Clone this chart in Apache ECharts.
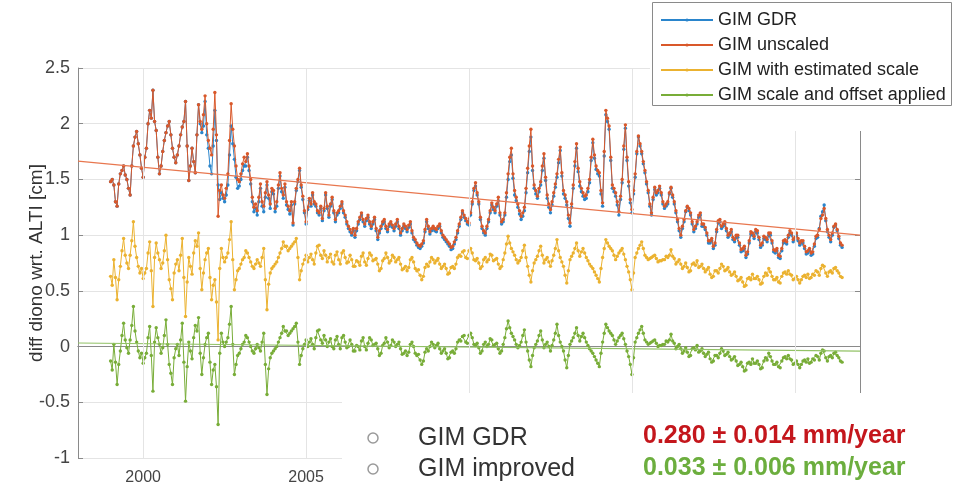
<!DOCTYPE html>
<html><head><meta charset="utf-8">
<script src="https://cdn.jsdelivr.net/npm/echarts@6/dist/echarts.min.js"></script>
<style>html,body{margin:0;padding:0;background:#fff}#c{width:955px;height:487px}</style>
</head><body><div id="c"></div>
<script>
const years = [
1999,1999.05,1999.1,1999.15,1999.2,1999.25,1999.3,1999.35,1999.4,1999.45,1999.5,1999.55,1999.6,1999.65,1999.7,1999.75,1999.8,1999.85,1999.9,1999.95,
2000,2000.05,2000.1,2000.15,2000.2,2000.25,2000.3,2000.35,2000.4,2000.45,2000.5,2000.55,2000.6,2000.65,2000.7,2000.75,2000.8,2000.85,2000.9,2000.95,
2001,2001.05,2001.1,2001.15,2001.2,2001.25,2001.3,2001.35,2001.4,2001.45,2001.5,2001.55,2001.6,2001.65,2001.7,2001.75,2001.8,2001.85,2001.9,2001.95,
2002,2002.05,2002.1,2002.15,2002.2,2002.25,2002.3,2002.35,2002.4,2002.45,2002.5,2002.55,2002.6,2002.65,2002.7,2002.75,2002.8,2002.85,2002.9,2002.95,
2003,2003.05,2003.1,2003.15,2003.2,2003.25,2003.3,2003.35,2003.4,2003.45,2003.5,2003.55,2003.6,2003.65,2003.7,2003.75,2003.8,2003.85,2003.9,2003.95,
2004,2004.05,2004.1,2004.15,2004.2,2004.25,2004.3,2004.35,2004.4,2004.45,2004.5,2004.55,2004.6,2004.65,2004.7,2004.75,2004.8,2004.85,2004.9,2004.95,
2005,2005.05,2005.1,2005.15,2005.2,2005.25,2005.3,2005.35,2005.4,2005.45,2005.5,2005.55,2005.6,2005.65,2005.7,2005.75,2005.8,2005.85,2005.9,2005.95,
2006,2006.05,2006.1,2006.15,2006.2,2006.25,2006.3,2006.35,2006.4,2006.45,2006.5,2006.55,2006.6,2006.65,2006.7,2006.75,2006.8,2006.85,2006.9,2006.95,
2007,2007.05,2007.1,2007.15,2007.2,2007.25,2007.3,2007.35,2007.4,2007.45,2007.5,2007.55,2007.6,2007.65,2007.7,2007.75,2007.8,2007.85,2007.9,2007.95,
2008,2008.05,2008.1,2008.15,2008.2,2008.25,2008.3,2008.35,2008.4,2008.45,2008.5,2008.55,2008.6,2008.65,2008.7,2008.75,2008.8,2008.85,2008.9,2008.95,
2009,2009.05,2009.1,2009.15,2009.2,2009.25,2009.3,2009.35,2009.4,2009.45,2009.5,2009.55,2009.6,2009.65,2009.7,2009.75,2009.8,2009.85,2009.9,2009.95,
2010,2010.05,2010.1,2010.15,2010.2,2010.25,2010.3,2010.35,2010.4,2010.45,2010.5,2010.55,2010.6,2010.65,2010.7,2010.75,2010.8,2010.85,2010.9,2010.95,
2011,2011.05,2011.1,2011.15,2011.2,2011.25,2011.3,2011.35,2011.4,2011.45,2011.5,2011.55,2011.6,2011.65,2011.7,2011.75,2011.8,2011.85,2011.9,2011.95,
2012,2012.05,2012.1,2012.15,2012.2,2012.25,2012.3,2012.35,2012.4,2012.45,2012.5,2012.55,2012.6,2012.65,2012.7,2012.75,2012.8,2012.85,2012.9,2012.95,
2013,2013.05,2013.1,2013.15,2013.2,2013.25,2013.3,2013.35,2013.4,2013.45,2013.5,2013.55,2013.6,2013.65,2013.7,2013.75,2013.8,2013.85,2013.9,2013.95,
2014,2014.05,2014.1,2014.15,2014.2,2014.25,2014.3,2014.35,2014.4,2014.45,2014.5,2014.55,2014.6,2014.65,2014.7,2014.75,2014.8,2014.85,2014.9,2014.95,
2015,2015.05,2015.1,2015.15,2015.2,2015.25,2015.3,2015.35,2015.4,2015.45,2015.5,2015.55,2015.6,2015.65,2015.7,2015.75,2015.8,2015.85,2015.9,2015.95,
2016,2016.05,2016.1,2016.15,2016.2,2016.25,2016.3,2016.35,2016.4,2016.45,2016.5,2016.55,2016.6,2016.65,2016.7,2016.75,2016.8,2016.85,2016.9,2016.95,
2017,2017.05,2017.1,2017.15,2017.2,2017.25,2017.3,2017.35,2017.4,2017.45,2017.5,2017.55,2017.6,2017.65,2017.7,2017.75,2017.8,2017.85,2017.9,2017.95,
2018,2018.05,2018.1,2018.15,2018.2,2018.25,2018.3,2018.35,2018.4,2018.45,2018.5,2018.55,2018.6,2018.65,2018.7,2018.75,2018.8,2018.85,2018.9,2018.95,
2019,2019.05,2019.1,2019.15,2019.2,2019.25,2019.3,2019.35,2019.4,2019.45,2019.5,2019.55,2019.6,2019.65,2019.7,2019.75,2019.8,2019.85,2019.9,2019.95,
2020,2020.05,2020.1,2020.15,2020.2,2020.25,2020.3,2020.35,2020.4,2020.45,2020.5,2020.55,2020.6,2020.65,2020.7,2020.75,2020.8,2020.85,2020.9,2020.95,
2021,2021.05,2021.1,2021.15,2021.2,2021.25,2021.3,2021.35,2021.4,2021.45
];
const gimGDR = [
1.48,1.50,1.45,1.30,1.26,1.46,1.55,1.58,1.62,1.54,1.50,1.42,1.36,1.62,1.80,1.88,1.93,1.82,1.72,1.60,
1.52,1.70,1.78,2.00,2.12,2.05,2.30,2.02,1.94,1.70,1.55,1.62,1.75,1.85,1.92,1.98,2.02,1.90,1.78,1.70,
1.65,1.72,1.80,1.90,1.97,2.02,2.20,1.80,1.49,1.62,1.78,1.66,1.56,1.90,2.17,2.00,1.92,1.98,2.20,1.90,
1.78,1.62,1.55,1.80,2.12,1.85,1.45,1.32,1.38,1.33,1.30,1.36,1.45,1.72,1.98,1.82,1.68,1.52,1.42,1.44,
1.50,1.58,1.62,1.62,1.70,1.58,1.46,1.30,1.21,1.24,1.18,1.30,1.42,1.26,1.21,1.34,1.45,1.33,1.24,1.39,
1.37,1.21,1.26,1.42,1.53,1.39,1.33,1.43,1.27,1.23,1.19,1.27,1.09,1.28,1.40,1.48,1.58,1.43,1.32,1.20,
1.10,1.23,1.31,1.26,1.36,1.28,1.26,1.20,1.18,1.24,1.13,1.22,1.36,1.24,1.16,1.26,1.32,1.20,1.12,1.18,
1.20,1.24,1.28,1.20,1.16,1.10,1.06,1.03,1.00,1.04,0.98,1.04,1.10,1.14,1.18,1.12,1.08,1.13,1.16,1.10,
1.06,1.10,1.14,1.04,0.96,1.02,1.06,1.10,1.12,1.06,1.03,1.08,1.10,1.07,1.04,1.08,1.12,1.06,1.00,1.04,
1.08,1.06,1.03,1.07,1.10,1.02,0.96,0.94,0.91,0.89,0.88,0.90,0.93,1.03,1.12,1.06,1.01,1.04,1.06,1.04,
1.03,1.06,1.08,1.02,0.98,0.96,0.94,0.92,0.90,0.87,0.88,0.92,0.96,1.02,1.08,1.14,1.20,1.16,1.13,1.10,
1.09,1.18,1.28,1.40,1.44,1.36,1.28,1.14,1.06,1.02,1.00,1.06,1.12,1.20,1.27,1.23,1.20,1.26,1.31,1.18,
1.10,1.12,1.18,1.34,1.50,1.66,1.72,1.51,1.36,1.31,1.25,1.19,1.14,1.17,1.22,1.38,1.56,1.75,1.88,1.58,
1.42,1.37,1.33,1.39,1.45,1.58,1.69,1.49,1.33,1.25,1.20,1.27,1.35,1.43,1.52,1.65,1.76,1.53,1.37,1.33,
1.27,1.15,1.08,1.25,1.42,1.62,1.78,1.57,1.44,1.39,1.35,1.32,1.33,1.39,1.47,1.67,1.83,1.69,1.59,1.55,
1.53,1.37,1.26,1.71,2.08,2.02,1.95,1.67,1.42,1.39,1.35,1.27,1.18,1.32,1.47,1.77,1.96,1.67,1.44,1.29,
1.20,1.37,1.52,1.73,1.88,1.80,1.73,1.64,1.56,1.46,1.38,1.26,1.18,1.32,1.41,1.36,1.38,1.42,1.36,1.28,
1.24,1.26,1.28,1.37,1.42,1.34,1.28,1.20,1.12,1.04,0.98,1.06,1.12,1.21,1.25,1.22,1.18,1.10,1.03,1.06,
1.10,1.16,1.18,1.08,1.08,1.05,1.00,0.93,0.93,0.95,0.88,0.91,1.03,1.11,1.12,1.06,1.08,1.10,1.04,0.98,
1.00,1.03,0.96,0.94,0.98,0.98,0.91,0.85,0.86,0.88,0.80,0.83,0.93,1.01,1.00,0.97,1.03,1.02,0.96,0.89,
0.91,0.97,0.96,0.94,1.00,1.00,0.93,0.85,0.84,0.86,0.80,0.79,0.86,0.93,0.94,0.92,0.98,1.02,1.00,0.94,
0.96,1.00,0.95,0.91,0.93,0.93,0.88,0.83,0.84,0.86,0.82,0.83,0.90,0.97,0.98,1.06,1.17,1.21,1.27,1.13,
1.03,0.98,0.94,1.00,1.07,1.09,1.04,0.97,0.91,0.89
];
const gimUnscaled = [
1.48,1.50,1.45,1.30,1.26,1.46,1.55,1.58,1.62,1.54,1.50,1.42,1.36,1.62,1.80,1.88,1.93,1.82,1.72,1.60,
1.52,1.70,1.78,2.00,2.12,2.05,2.30,2.02,1.94,1.70,1.55,1.62,1.75,1.85,1.92,1.98,2.02,1.90,1.78,1.70,
1.65,1.72,1.80,1.90,1.97,2.02,2.20,1.80,1.49,1.62,1.78,1.66,1.56,1.90,2.17,2.02,1.95,2.08,2.25,2.00,
1.85,1.78,1.72,1.95,2.28,1.90,1.17,1.40,1.45,1.36,1.33,1.42,1.55,1.85,2.18,1.95,1.80,1.62,1.50,1.48,
1.55,1.64,1.70,1.66,1.73,1.62,1.50,1.34,1.25,1.28,1.22,1.34,1.46,1.30,1.26,1.38,1.48,1.36,1.28,1.42,
1.40,1.24,1.30,1.45,1.56,1.42,1.36,1.46,1.30,1.26,1.22,1.30,1.11,1.30,1.42,1.50,1.60,1.45,1.35,1.22,
1.12,1.25,1.33,1.28,1.38,1.30,1.28,1.22,1.20,1.26,1.15,1.24,1.38,1.26,1.18,1.28,1.34,1.22,1.14,1.20,
1.22,1.26,1.30,1.22,1.18,1.12,1.08,1.05,1.02,1.06,1.00,1.06,1.12,1.16,1.20,1.14,1.10,1.15,1.18,1.12,
1.08,1.12,1.16,1.06,0.98,1.04,1.08,1.12,1.14,1.08,1.05,1.10,1.12,1.09,1.06,1.10,1.14,1.08,1.02,1.06,
1.10,1.08,1.05,1.09,1.12,1.04,0.98,0.96,0.93,0.91,0.90,0.92,0.95,1.05,1.14,1.08,1.03,1.06,1.08,1.06,
1.05,1.08,1.10,1.04,1.00,0.98,0.96,0.94,0.92,0.89,0.90,0.94,0.98,1.04,1.10,1.16,1.22,1.18,1.15,1.12,
1.11,1.20,1.30,1.42,1.47,1.38,1.30,1.16,1.08,1.04,1.02,1.08,1.14,1.22,1.29,1.25,1.22,1.28,1.34,1.20,
1.12,1.14,1.20,1.38,1.55,1.70,1.78,1.55,1.40,1.34,1.28,1.22,1.17,1.20,1.25,1.42,1.60,1.80,1.95,1.62,
1.45,1.40,1.35,1.42,1.48,1.62,1.73,1.52,1.36,1.28,1.23,1.30,1.38,1.46,1.55,1.68,1.79,1.56,1.40,1.36,
1.30,1.18,1.11,1.28,1.45,1.66,1.82,1.60,1.48,1.42,1.38,1.35,1.36,1.42,1.50,1.70,1.86,1.72,1.62,1.58,
1.56,1.40,1.29,1.75,2.12,2.05,1.98,1.70,1.45,1.42,1.38,1.30,1.21,1.35,1.50,1.80,1.99,1.70,1.48,1.32,
1.23,1.40,1.55,1.75,1.89,1.82,1.75,1.66,1.58,1.48,1.40,1.28,1.20,1.34,1.43,1.38,1.40,1.44,1.38,1.30,
1.26,1.28,1.30,1.38,1.43,1.36,1.30,1.22,1.14,1.06,1.00,1.08,1.14,1.22,1.26,1.24,1.20,1.12,1.05,1.08,
1.12,1.18,1.20,1.10,1.10,1.07,1.02,0.95,0.95,0.97,0.90,0.93,1.05,1.13,1.14,1.08,1.10,1.12,1.06,1.00,
1.02,1.05,0.98,0.96,1.00,1.00,0.93,0.87,0.88,0.90,0.82,0.85,0.95,1.03,1.02,0.99,1.05,1.04,0.98,0.91,
0.93,0.99,0.98,0.96,1.02,1.02,0.95,0.87,0.86,0.88,0.82,0.81,0.88,0.95,0.96,0.94,1.00,1.04,1.02,0.96,
0.98,1.02,0.97,0.93,0.95,0.95,0.90,0.85,0.86,0.88,0.84,0.85,0.92,0.99,1.00,1.05,1.15,1.18,1.24,1.15,
1.05,1.00,0.96,1.02,1.08,1.10,1.05,0.99,0.93,0.91
];
const gimEstScale = [
0.63,0.55,0.78,0.62,0.42,0.60,0.72,0.86,0.97,0.82,0.75,0.70,0.82,0.95,1.12,0.90,0.80,0.72,0.66,0.70,
0.61,0.66,0.70,0.84,0.94,0.68,0.36,0.80,0.93,0.84,0.78,0.70,0.75,0.86,1.00,0.78,0.60,0.52,0.42,0.66,
0.74,0.78,0.68,0.82,0.97,0.62,0.27,0.58,0.80,0.72,0.65,0.84,0.95,0.90,1.02,0.70,0.51,0.66,0.78,0.84,
0.88,0.62,0.42,0.55,0.60,0.40,0.06,0.70,0.88,0.80,0.76,0.80,0.84,0.96,1.12,0.78,0.51,0.60,0.68,0.70,
0.74,0.78,0.80,0.86,0.84,0.80,0.76,0.72,0.70,0.74,0.78,0.75,0.72,0.80,0.88,0.60,0.33,0.56,0.66,0.70,
0.72,0.74,0.76,0.80,0.84,0.88,0.94,0.90,0.90,0.86,0.88,0.90,0.92,0.94,0.97,0.80,0.60,0.68,0.74,0.78,
0.82,0.76,0.80,0.83,0.78,0.74,0.84,0.90,0.91,0.82,0.79,0.86,0.82,0.76,0.80,0.83,0.76,0.74,0.82,0.85,
0.78,0.74,0.84,0.86,0.80,0.75,0.76,0.82,0.78,0.72,0.72,0.77,0.76,0.73,0.81,0.84,0.76,0.73,0.79,0.84,
0.82,0.77,0.78,0.79,0.74,0.68,0.70,0.77,0.79,0.84,0.80,0.75,0.77,0.82,0.80,0.76,0.78,0.80,0.74,0.69,
0.70,0.72,0.68,0.71,0.78,0.80,0.76,0.70,0.68,0.69,0.64,0.60,0.63,0.71,0.74,0.72,0.76,0.80,0.78,0.75,
0.77,0.79,0.74,0.70,0.72,0.74,0.70,0.65,0.66,0.71,0.72,0.70,0.74,0.80,0.82,0.81,0.85,0.86,0.80,0.79,
0.86,0.88,0.84,0.78,0.77,0.79,0.75,0.70,0.72,0.78,0.80,0.76,0.78,0.83,0.82,0.77,0.78,0.79,0.74,0.70,
0.72,0.78,0.84,0.92,0.99,0.93,0.88,0.85,0.82,0.78,0.75,0.77,0.80,0.86,0.91,0.80,0.72,0.64,0.58,0.68,
0.75,0.78,0.81,0.86,0.90,0.82,0.75,0.78,0.80,0.76,0.72,0.77,0.82,0.88,0.96,0.86,0.80,0.76,0.72,0.64,
0.57,0.68,0.78,0.81,0.84,0.88,0.93,0.86,0.81,0.85,0.88,0.84,0.80,0.77,0.74,0.72,0.70,0.67,0.64,0.61,
0.58,0.70,0.80,0.88,0.96,0.93,0.90,0.88,0.86,0.82,0.78,0.81,0.84,0.86,0.88,0.83,0.78,0.72,0.67,0.60,
0.51,0.66,0.80,0.84,0.88,0.91,0.94,0.88,0.82,0.80,0.78,0.79,0.80,0.81,0.82,0.79,0.76,0.77,0.77,0.78,
0.78,0.81,0.80,0.82,0.87,0.81,0.79,0.74,0.76,0.78,0.74,0.70,0.72,0.75,0.71,0.67,0.68,0.74,0.75,0.73,
0.77,0.71,0.72,0.74,0.70,0.67,0.69,0.71,0.65,0.62,0.63,0.68,0.68,0.66,0.70,0.74,0.72,0.68,0.69,0.71,
0.67,0.64,0.65,0.67,0.63,0.59,0.60,0.62,0.58,0.54,0.55,0.61,0.62,0.60,0.65,0.61,0.61,0.63,0.60,0.56,
0.57,0.63,0.66,0.64,0.70,0.67,0.63,0.60,0.60,0.62,0.58,0.57,0.63,0.66,0.67,0.65,0.68,0.65,0.64,0.60,
0.61,0.63,0.60,0.57,0.60,0.63,0.64,0.62,0.65,0.61,0.62,0.65,0.64,0.68,0.67,0.64,0.70,0.73,0.72,0.66,
0.63,0.67,0.68,0.66,0.70,0.71,0.68,0.66,0.63,0.62
];
const gimScaleOffset = [
-0.13,-0.21,0.02,-0.14,-0.34,-0.16,-0.04,0.10,0.21,0.06,-0.01,-0.06,0.06,0.19,0.36,0.14,0.04,-0.04,-0.10,-0.06,
-0.15,-0.10,-0.06,0.08,0.18,-0.08,-0.40,0.04,0.17,0.08,0.02,-0.06,-0.01,0.10,0.24,0.02,-0.16,-0.24,-0.34,-0.10,
-0.02,0.02,-0.08,0.06,0.21,-0.14,-0.49,-0.18,0.04,-0.04,-0.11,0.08,0.19,0.14,0.26,-0.06,-0.25,-0.10,0.02,0.08,
0.12,-0.14,-0.34,-0.21,-0.16,-0.36,-0.70,-0.06,0.12,0.04,0.00,0.04,0.08,0.20,0.36,0.02,-0.25,-0.16,-0.08,-0.06,
-0.02,0.02,0.04,0.10,0.08,0.04,0.00,-0.04,-0.06,-0.02,0.02,-0.01,-0.04,0.04,0.12,-0.16,-0.43,-0.20,-0.10,-0.06,
-0.04,-0.02,0.00,0.04,0.08,0.12,0.18,0.14,0.14,0.10,0.12,0.14,0.16,0.18,0.21,0.04,-0.16,-0.08,-0.02,0.02,
0.06,0.00,0.04,0.07,0.02,-0.02,0.08,0.14,0.15,0.06,0.03,0.10,0.06,0.00,0.04,0.07,0.00,-0.02,0.06,0.09,
0.02,-0.02,0.08,0.10,0.04,-0.01,0.00,0.06,0.02,-0.04,-0.04,0.01,0.00,-0.03,0.05,0.08,0.00,-0.03,0.03,0.08,
0.06,0.01,0.02,0.03,-0.02,-0.08,-0.06,0.01,0.03,0.08,0.04,-0.01,0.01,0.06,0.04,0.00,0.02,0.04,-0.02,-0.07,
-0.06,-0.04,-0.08,-0.05,0.02,0.04,0.00,-0.06,-0.08,-0.07,-0.12,-0.16,-0.13,-0.05,-0.02,-0.04,0.00,0.04,0.02,-0.01,
0.01,0.03,-0.02,-0.06,-0.04,-0.02,-0.06,-0.11,-0.10,-0.05,-0.04,-0.06,-0.02,0.04,0.06,0.05,0.09,0.10,0.04,0.03,
0.10,0.12,0.08,0.02,0.01,0.03,-0.01,-0.06,-0.04,0.02,0.04,0.00,0.02,0.07,0.06,0.01,0.02,0.03,-0.02,-0.06,
-0.04,0.02,0.08,0.16,0.23,0.17,0.12,0.09,0.06,0.02,-0.01,0.01,0.04,0.10,0.15,0.04,-0.04,-0.12,-0.18,-0.08,
-0.01,0.02,0.05,0.10,0.14,0.06,-0.01,0.02,0.04,0.00,-0.04,0.01,0.06,0.12,0.20,0.10,0.04,0.00,-0.04,-0.12,
-0.19,-0.08,0.02,0.05,0.08,0.12,0.17,0.10,0.05,0.09,0.12,0.08,0.04,0.01,-0.02,-0.04,-0.06,-0.09,-0.12,-0.15,
-0.18,-0.06,0.04,0.12,0.20,0.17,0.14,0.12,0.10,0.06,0.02,0.05,0.08,0.10,0.12,0.07,0.02,-0.04,-0.09,-0.16,
-0.25,-0.10,0.04,0.08,0.12,0.15,0.18,0.12,0.06,0.04,0.02,0.03,0.04,0.05,0.06,0.03,0.00,0.01,0.01,0.02,
0.02,0.05,0.04,0.06,0.11,0.05,0.03,-0.02,0.00,0.02,-0.02,-0.06,-0.04,-0.01,-0.05,-0.09,-0.08,-0.02,-0.01,-0.03,
0.01,-0.05,-0.04,-0.02,-0.06,-0.09,-0.07,-0.05,-0.11,-0.14,-0.13,-0.08,-0.08,-0.10,-0.06,-0.02,-0.04,-0.08,-0.07,-0.05,
-0.09,-0.12,-0.11,-0.09,-0.13,-0.17,-0.16,-0.14,-0.18,-0.22,-0.21,-0.15,-0.14,-0.16,-0.11,-0.15,-0.15,-0.13,-0.16,-0.20,
-0.19,-0.13,-0.10,-0.12,-0.06,-0.09,-0.13,-0.16,-0.16,-0.14,-0.18,-0.19,-0.13,-0.10,-0.09,-0.11,-0.08,-0.11,-0.12,-0.16,
-0.15,-0.13,-0.16,-0.19,-0.16,-0.13,-0.12,-0.14,-0.11,-0.15,-0.14,-0.11,-0.12,-0.08,-0.09,-0.12,-0.06,-0.03,-0.04,-0.10,
-0.13,-0.09,-0.08,-0.10,-0.06,-0.05,-0.08,-0.10,-0.13,-0.14
];
const trendYears = [1998, 2022];
const trendUnscaled = [1.664, 1.0];
const trendImproved = [0.032, -0.04];
const xTickValues = [2000, 2005, 2010, 2015, 2020];
const seriesNames = ['GIM GDR', 'GIM unscaled', 'GIM with estimated scale', 'GIM scale and offset applied'];
const annotNames = ['GIM GDR', 'GIM improved'];
const annotRates = ['0.280 ± 0.014 mm/year', '0.033 ± 0.006 mm/year'];

const pair = (xs, ys) => xs.map((x, i) => [x, ys[i]]);
const FONT = '"Liberation Sans", Arial, Helvetica, sans-serif';
const COLORS = ['#2a85cc', '#d9582a', '#ebb230', '#78ad38'];
const AX = '#8a8a8a';

function dataSeries(name, ys, color, z) {
  return {
    name, type: 'line', data: pair(years, ys), z,
    symbol: 'circle', symbolSize: 3.4, showSymbol: true,
    lineStyle: { color, width: 1 }, itemStyle: { color },
    emphasis: { disabled: true }, animation: false
  };
}

const chart = echarts.init(document.getElementById('c'), null, { renderer: 'canvas' });
const s0 = dataSeries(seriesNames[0], gimGDR, COLORS[0], 2);
s0.markLine = {
  silent: true, symbol: ['none', 'none'], label: { show: false }, animation: false,
  lineStyle: { color: '#e4e4e4', type: 'solid', width: 1 },
  data: xTickValues.map(v => ({ xAxis: v }))
};

chart.setOption({
  animation: false,
  grid: { left: 78, right: 95, top: 68, bottom: 29 },
  xAxis: [
    { type: 'value', min: 1998, max: 2022, position: 'bottom',
      axisLine: { show: true, lineStyle: { color: AX } },
      axisTick: { show: true, inside: true, length: 5, customValues: xTickValues, lineStyle: { color: AX } },
      axisLabel: { customValues: xTickValues, color: '#444', fontSize: 16, margin: 12, fontFamily: FONT,
        formatter: v => String(v) },
      splitLine: { show: false } },
    { type: 'value', min: 1998, max: 2022, position: 'top',
      axisLine: { show: true, lineStyle: { color: AX } },
      axisTick: { show: true, inside: true, length: 5, customValues: xTickValues, lineStyle: { color: AX } },
      axisLabel: { show: false }, splitLine: { show: false } }
  ],
  yAxis: [
    { type: 'value', min: -1, max: 2.5, interval: 0.5,
      axisLine: { show: true, lineStyle: { color: AX } },
      axisTick: { show: true, inside: true, length: 5, lineStyle: { color: AX } },
      axisLabel: { color: '#444', fontSize: 18, margin: 8, fontFamily: FONT },
      splitLine: { show: true, lineStyle: { color: '#e4e4e4', width: 1 } },
      name: 'diff diono wrt. ALTI [cm]', nameLocation: 'middle', nameGap: 32, nameRotate: 90,
      nameMoveOverlap: false,
      nameTextStyle: { color: '#333', fontSize: 19, fontFamily: FONT } },
    { type: 'value', min: -1, max: 2.5, interval: 0.5, position: 'right',
      axisLine: { show: true, lineStyle: { color: AX } },
      axisTick: { show: true, inside: true, length: 5, lineStyle: { color: AX } },
      axisLabel: { show: false }, splitLine: { show: false } }
  ],
  legend: {
    data: seriesNames, orient: 'vertical', left: 655, top: 5, z: 60,
    itemWidth: 52, itemHeight: 4, itemGap: 5,
    textStyle: { fontSize: 18, color: '#222', fontFamily: FONT, lineHeight: 20 },
    selectedMode: false
  },
  series: [
    s0,
    dataSeries(seriesNames[1], gimUnscaled, COLORS[1], 3),
    dataSeries(seriesNames[2], gimEstScale, COLORS[2], 3),
    dataSeries(seriesNames[3], gimScaleOffset, COLORS[3], 3),
    { name: 'trend unscaled', type: 'line', data: pair(trendYears, trendUnscaled), symbol: 'none', z: 4,
      lineStyle: { color: '#e8774f', width: 1.2 }, silent: true },
    { name: 'trend improved', type: 'line', data: pair(trendYears, trendImproved), symbol: 'none', z: 4,
      lineStyle: { color: '#92c266', width: 1.2 }, silent: true }
  ],
  graphic: [
    { type: 'rect', z: 50, silent: true, shape: { x: 650, y: 0, width: 305, height: 131 }, style: { fill: '#fff' } },
    { type: 'rect', z: 51, silent: true, shape: { x: 652.5, y: 2.5, width: 299, height: 103 }, style: { fill: '#fff', stroke: '#8a8a8a', lineWidth: 1 } },
    { type: 'rect', z: 50, silent: true, shape: { x: 342, y: 393, width: 613, height: 94 }, style: { fill: '#fff' } },
    { type: 'circle', z: 52, shape: { cx: 373, cy: 438, r: 5 }, style: { fill: 'none', stroke: '#9a9a9a', lineWidth: 1.5 } },
    { type: 'circle', z: 52, shape: { cx: 373, cy: 469, r: 5 }, style: { fill: 'none', stroke: '#9a9a9a', lineWidth: 1.5 } },
    { type: 'text', z: 52, x: 418, y: 438, style: { text: annotNames[0], fill: '#333', font: '25px ' + FONT, verticalAlign: 'middle' } },
    { type: 'text', z: 52, x: 418, y: 469, style: { text: annotNames[1], fill: '#333', font: '25px ' + FONT, verticalAlign: 'middle' } },
    { type: 'text', z: 52, x: 643, y: 436, style: { text: annotRates[0], fill: '#c4161c', font: 'bold 25px ' + FONT, verticalAlign: 'middle' } },
    { type: 'text', z: 52, x: 643, y: 468, style: { text: annotRates[1], fill: '#6cae3e', font: 'bold 25px ' + FONT, verticalAlign: 'middle' } }
  ]
});
</script></body></html>
